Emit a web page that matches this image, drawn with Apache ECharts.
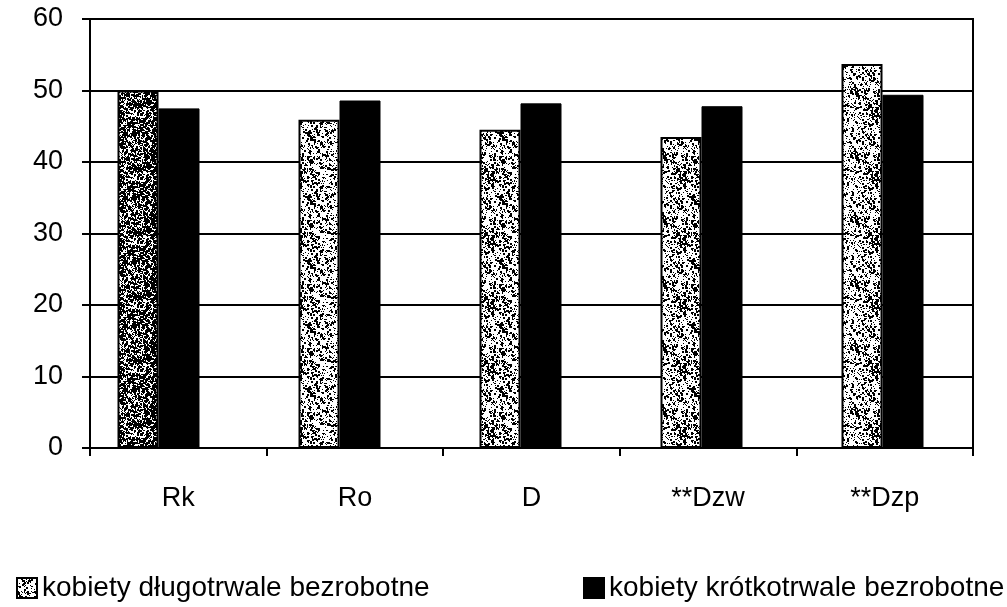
<!DOCTYPE html>
<html>
<head>
<meta charset="utf-8">
<script src="https://cdn.jsdelivr.net/npm/echarts@6/dist/echarts.min.js"></script>
<style>
  html, body { margin: 0; padding: 0; background: #fff; }
  #chart { width: 1007px; height: 607px; }
</style>
</head>
<body>
<div id="chart"></div>
<script>
// values
var categories = ['Rk', 'Ro', 'D', '**Dzw', '**Dzp'];
var longTerm = [50.0, 45.9, 44.5, 43.5, 53.7];
var shortTerm = [47.5, 48.6, 48.2, 47.8, 49.4];
var yTicks = [0, 10, 20, 30, 40, 50, 60];
var seriesNames = ['kobiety długotrwale bezrobotne', 'kobiety krótkotrwale bezrobotne'];

var font = 'Liberation Sans, Arial, sans-serif';

// speckled fill like the scanned print (seeded so it is the same every time)
function makeTexture(density) {
  var c = document.createElement('canvas');
  c.width = 64; c.height = 64;
  var ctx = c.getContext('2d');
  ctx.fillStyle = '#ffffff';
  ctx.fillRect(0, 0, 64, 64);
  var seed = 7;
  function rnd() { seed = (seed * 16807) % 2147483647; return seed / 2147483647; }
  ctx.fillStyle = '#000000';
  for (var i = 0; i < 64 * 64 * density; i++) {
    var x = Math.floor(rnd() * 64), y = Math.floor(rnd() * 64);
    var s = rnd() < 0.3 ? 2 : 1;
    ctx.fillRect(x, y, s, s);
  }
  return c;
}
var lightTex = makeTexture(0.22);
var darkTex = makeTexture(0.6);

var chart = echarts.init(document.getElementById('chart'));

var longData = longTerm.map(function (v, i) {
  if (i === 0) return { value: v, itemStyle: { color: { image: darkTex, repeat: 'repeat' } } };
  return v;
});

var legendText = { fontFamily: font, fontSize: 28, color: '#000' };

chart.setOption({
  animation: false,
  backgroundColor: '#ffffff',
  // grid 0 carries the visible axes, grid 1 the bars (the scan has the bar pairs sitting left of the band centre)
  grid: [
    { left: 90, right: 34, top: 19, bottom: 159, show: true, borderColor: '#000', borderWidth: 2 },
    { left: 68, right: 34, top: 19, bottom: 159 }
  ],
  legend: [
    {
      data: [seriesNames[0]], left: 11, top: 569,
      itemWidth: 20, itemHeight: 20, itemGap: 8, icon: 'rect',
      textStyle: legendText
    },
    {
      data: [seriesNames[1]], left: 578, top: 569,
      itemWidth: 20, itemHeight: 20, icon: 'rect',
      textStyle: legendText
    }
  ],
  xAxis: [
    {
      type: 'category',
      gridIndex: 0,
      data: categories,
      axisLine: { lineStyle: { color: '#000', width: 2 } },
      axisTick: { show: true, length: 8, lineStyle: { color: '#000', width: 2 } },
      axisLabel: { margin: 37, fontFamily: font, fontSize: 27, color: '#000' }
    },
    {
      type: 'category',
      gridIndex: 1,
      data: categories,
      show: false
    }
  ],
  yAxis: [
    {
      type: 'value',
      gridIndex: 0,
      min: yTicks[0], max: yTicks[yTicks.length - 1], interval: 10,
      axisLine: { show: true, lineStyle: { color: '#000', width: 2 } },
      axisTick: { show: true, length: 8, lineStyle: { color: '#000', width: 2 } },
      axisLabel: { margin: 27, fontFamily: font, fontSize: 27, color: '#000' },
      splitLine: { lineStyle: { color: '#000', width: 2 } }
    },
    {
      type: 'value',
      gridIndex: 1,
      min: yTicks[0], max: yTicks[yTicks.length - 1], interval: 10,
      show: false,
      splitLine: { show: false }
    }
  ],
  series: [
    {
      name: seriesNames[0],
      type: 'bar',
      xAxisIndex: 1,
      yAxisIndex: 1,
      data: longData,
      barWidth: 41,
      barGap: '0%',
      itemStyle: {
        color: { image: lightTex, repeat: 'repeat' },
        borderColor: '#000', borderWidth: 2
      }
    },
    {
      name: seriesNames[1],
      type: 'bar',
      xAxisIndex: 1,
      yAxisIndex: 1,
      data: shortTerm,
      barWidth: 41,
      itemStyle: { color: '#000', borderColor: '#000', borderWidth: 1 }
    }
  ]
});
</script>
</body>
</html>
